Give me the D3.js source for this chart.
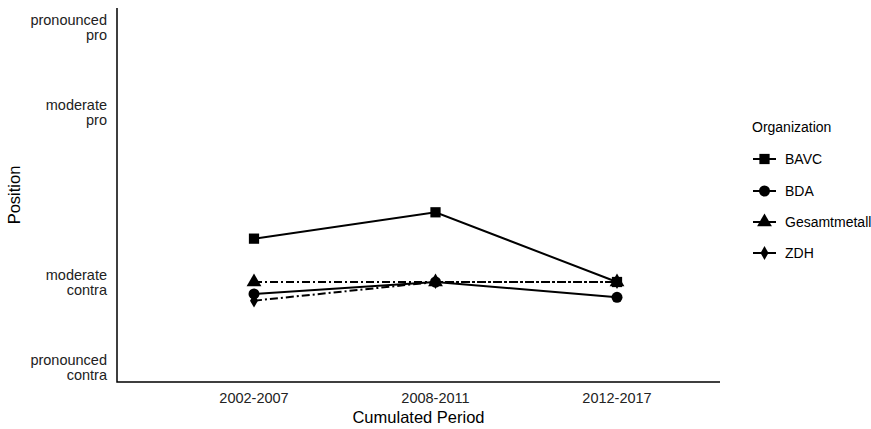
<!DOCTYPE html>
<html>
<head>
<meta charset="utf-8">
<script src="https://cdn.jsdelivr.net/npm/d3@7"></script>
<style>
  body { margin: 0; background: #fff; }
  text { font-family: "Liberation Sans", Arial, sans-serif; }
</style>
</head>
<body>
<div id="chart"></div>
<script>
// --- data ---
const periods = ["2002-2007", "2008-2011", "2012-2017"];
const organizations = ["BAVC", "BDA", "Gesamtmetall", "ZDH"];
const bavc = [-0.49, -0.18, -1.0];
const bda = [-1.14, -1.0, -1.18];
const gesamtmetall = [-1.0, -1.0, -1.0];
const zdh = [-1.22, -1.0, -1.0];
const yTickValues = [2, 1, -1, -2];
const yTickLabels = [["pronounced", "pro"], ["moderate", "pro"], ["moderate", "contra"], ["pronounced", "contra"]];

const seriesValues = [bavc, bda, gesamtmetall, zdh];
const shapes = [d3.symbolSquare, d3.symbolCircle, d3.symbolTriangle, d3.symbolDiamond];
const shapeSizes = [105, 95, 95, 55];
const dashes = [null, null, "8,3,2,3", "8,3,2,3"];

const W = 871, H = 429;
const axisLeft = 117, axisRight = 720, axisTop = 8, axisBottom = 382;

const svg = d3.select("#chart").append("svg")
  .attr("width", W).attr("height", H);

// --- scales ---
const x = d3.scalePoint().domain(periods).range([254, 617]);
const y = d3.scaleLinear().domain([-2, 2]).range([367, 27]);

// --- axes lines ---
svg.append("path")
  .attr("d", `M${axisLeft},${axisTop}V${axisBottom}H${axisRight}`)
  .attr("fill", "none")
  .attr("stroke", "#000")
  .attr("stroke-width", 1.5);

// x tick labels
svg.selectAll(".xlab")
  .data(periods)
  .join("text")
  .attr("x", d => x(d))
  .attr("y", 403)
  .attr("text-anchor", "middle")
  .style("font-size", "14.5px")
  .attr("fill", "#222")
  .text(d => d);

// y tick labels (two lines each)
yTickValues.forEach((v, i) => {
  const t = svg.append("text")
    .attr("text-anchor", "end")
    .style("font-size", "14.5px")
    .attr("fill", "#222");
  yTickLabels[i].forEach((line, j) => {
    t.append("tspan")
      .attr("x", 107)
      .attr("y", y(v) - 2.5 + j * 15.5)
      .text(line);
  });
});

// axis titles
svg.append("text")
  .attr("x", (axisLeft + axisRight) / 2)
  .attr("y", 423)
  .attr("text-anchor", "middle")
  .style("font-size", "16.5px")
  .text("Cumulated Period");

svg.append("text")
  .attr("transform", `translate(20,${(axisTop + axisBottom) / 2}) rotate(-90)`)
  .attr("text-anchor", "middle")
  .style("font-size", "16.5px")
  .text("Position");

// --- lines and points ---
const line = d3.line()
  .x((d, i) => x(periods[i]))
  .y(d => y(d));

organizations.forEach((org, k) => {
  svg.append("path")
    .datum(seriesValues[k])
    .attr("d", line)
    .attr("fill", "none")
    .attr("stroke", "#000")
    .attr("stroke-width", 2)
    .attr("stroke-dasharray", dashes[k]);

  svg.selectAll(".pt-" + k)
    .data(seriesValues[k])
    .join("path")
    .attr("transform", (d, i) => `translate(${x(periods[i])},${y(d)})`)
    .attr("d", d3.symbol().type(shapes[k]).size(shapeSizes[k]))
    .attr("fill", "#000");
});

// --- legend ---
const legend = svg.append("g");
legend.append("text")
  .attr("x", 752)
  .attr("y", 132)
  .style("font-size", "14px")
  .text("Organization");

const keyY = [159, 191, 222, 253];
organizations.forEach((org, k) => {
  const g = legend.append("g").attr("transform", `translate(0,${keyY[k]})`);
  g.append("line")
    .attr("x1", 753).attr("x2", 776)
    .attr("stroke", "#000")
    .attr("stroke-width", 2);
  g.append("path")
    .attr("transform", "translate(764.5,0)")
    .attr("d", d3.symbol().type(shapes[k]).size(shapeSizes[k]))
    .attr("fill", "#000");
  g.append("text")
    .attr("x", 785)
    .attr("y", 5)
    .style("font-size", "14px")
    .text(org);
});
</script>
</body>
</html>
